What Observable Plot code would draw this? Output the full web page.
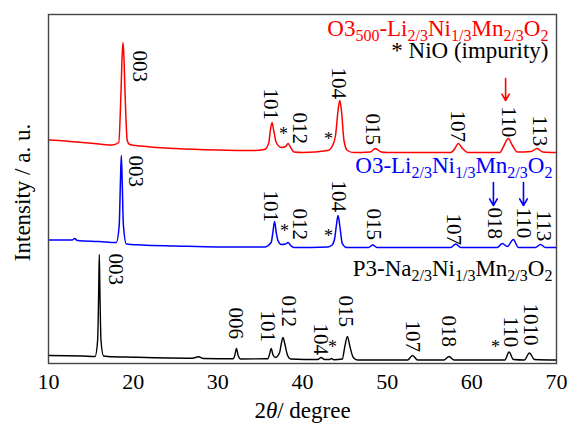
<!DOCTYPE html>
<html><head><meta charset="utf-8">
<script src="https://cdn.jsdelivr.net/npm/d3@7"></script>
<script src="https://cdn.jsdelivr.net/npm/@observablehq/plot@0.6"></script>
<style>body{margin:0;background:#fff} svg text{font-family:"Liberation Serif",serif}</style>
</head><body><div id="chart"></div>
<script>
// ---- Data (2θ in degrees, intensity in arbitrary units) ----
const xTicks = [10, 20, 30, 40, 50, 60, 70];

const redPattern = [
  [10,223.5],[12,222.5],[14,221],[16,219.5],[17.5,218.5],[18.3,221],[18.55,268],[18.7,308],[18.8,321],
  [18.9,308],[19.05,268],[19.3,223],[19.6,219],[20.9,217.5],[25,215],[30,213.5],[34,213],[35.5,214],
  [36.0,220],[36.2,233],[36.4,241],[36.6,233],[36.9,221],[37.5,216],[38.0,217],[38.3,220],[38.6,216],
  [39.0,211.5],[40,211],[43.0,213],[43.5,217],[43.9,228],[44.2,253],[44.4,263],[44.6,253],[44.9,223],
  [45.3,213],[46,211],[48.0,211.5],[48.6,215],[49.3,211.5],[50,211],[57.5,211],[58.0,215],[58.4,220],
  [58.9,215],[59.5,211],[63.3,211],[63.8,218],[64.3,225],[64.8,218],[65.4,211.5],[67,212],[67.7,215],
  [68.4,211.5],[70,211]
];
const bluePattern = [
  [10,123.5],[12.8,123.5],[13.1,125],[13.4,123],[16,122],[18.0,121],[18.35,138],[18.5,183],[18.6,208],
  [18.7,183],[18.85,138],[19.2,119.5],[21,118.5],[25,117.5],[30,116.5],[35.5,116.5],[36.3,121],[36.5,131],
  [36.7,142],[36.9,131],[37.1,123],[37.5,119],[38.0,119.5],[38.3,121],[38.6,118],[39.0,116],[43.0,116.5],
  [43.5,118.5],[43.8,125],[44.0,138],[44.2,148],[44.4,138],[44.7,120],[45.2,116],[47.8,116],[48.3,118.5],
  [48.8,116],[57.5,116],[58.1,119.5],[58.7,116],[63.0,116],[63.6,120],[64.2,117],[64.9,124],[65.5,116],
  [67.5,116],[68.1,119],[68.7,116],[70,116]
];
const blackPattern = [
  [10,8],[14,7.5],[15.5,7],[15.8,23],[15.93,73],[16.0,109],[16.07,73],[16.2,23],[16.5,7.5],[17,7],
  [20,6.3],[27,5.3],[27.7,6.7],[28.3,5],[31.8,4.7],[32.0,8],[32.2,15],[32.4,8],[32.7,4.5],[35.9,4.7],
  [36.1,9],[36.3,15],[36.5,9],[36.8,6],[37.3,11],[37.5,20],[37.7,26],[37.9,20],[38.2,9],[38.6,4.5],
  [41.8,4],[42.2,6],[42.6,4],[43.2,4],[43.4,5],[43.7,3.7],[44.7,4.5],[45.0,17],[45.3,27],[45.6,17],
  [46.0,6],[46.5,3.5],[52.4,3.5],[53.0,8],[53.6,3.5],[56.7,3.5],[57.3,7],[57.9,3.5],[63.9,3.5],
  [64.4,11.5],[64.9,4],[66.2,3.5],[66.8,10.5],[67.4,4],[70,3.5]
];

// peak index labels: [2θ, intensity at top of label, text]
const redPeakLabels = [
  [20.75,313,"003"],[36.22,275,"101"],[39.64,251,"012"],[44.25,296,"104"],[48.27,250,"015"],
  [58.3,253,"107"],[64.33,257,"110"],[67.99,248,"113"]
];
const bluePeakLabels = [
  [20.28,208,"003"],[36.22,173,"101"],[39.64,155,"012"],[44.25,183,"104"],[48.38,155,"015"],
  [57.83,150,"107"],[62.67,156,"018"],[66.1,156,"110"],[68.46,153,"113"]
];
const blackPeakLabels = [
  [17.91,110,"003"],[32.09,56,"006"],[35.87,53,"101"],[38.35,68,"012"],[42.12,40,"104"],
  [45.08,68,"015"],[52.99,43,"107"],[57.24,48,"018"],[64.56,47,"110"],[66.93,60,"1010"]
];
// NiO impurity marks: [2θ, intensity]
const impurityMarks = [[37.75,233],[43.07,228],[37.87,136],[43.07,131],[43.54,20],[62.79,20]];

// arrows: [2θ, from, to, colour]
const arrows = [[63.99,285,263,"red"],[62.55,181,158,"blue"],[66.1,181,158,"blue"]];

// sample names / notes: [2θ right end, baseline intensity, text, colour]
const sampleNames = [
  [69.05,328,"O3_{500}-Li_{2/3}Ni_{1/3}Mn_{2/3}O_{2}","red"],
  [69.05,306,"* NiO (impurity)","black"],
  [69.52,191,"O3-Li_{2/3}Ni_{1/3}Mn_{2/3}O_{2}","blue"],
  [69.52,88,"P3-Na_{2/3}Ni_{1/3}Mn_{2/3}O_{2}","black"]
];
const RED = "#ff0000", BLUE = "#0000ff", BLACK = "#000000";
const FONT = "Liberation Serif";
const colourOf = {red: RED, blue: BLUE, black: BLACK};

const peakText = (data) => Plot.text(data, {
  x: d => d[0], y: d => d[1], text: d => d[2], rotate: 90,
  textAnchor: "start", lineAnchor: "middle", fontSize: 21, fontFamily: FONT, fill: BLACK
});

const chart = Plot.plot({
  width: 568, height: 427,
  marginLeft: 48, marginRight: 12, marginTop: 14, marginBottom: 64,
  x: {domain: [10, 70]},
  y: {domain: [0, 349], axis: null},
  style: {fontFamily: FONT, fontSize: "22px", background: "white", color: "black"},
  marks: [
    Plot.line(blackPattern, {x: d => d[0], y: d => d[1], stroke: BLACK, strokeWidth: 1.4, curve: "monotone-x"}),
    Plot.line(bluePattern, {x: d => d[0], y: d => d[1], stroke: BLUE, strokeWidth: 1.5, curve: "monotone-x"}),
    Plot.line(redPattern, {x: d => d[0], y: d => d[1], stroke: RED, strokeWidth: 1.5, curve: "monotone-x"}),
    peakText(redPeakLabels),
    peakText(bluePeakLabels),
    peakText(blackPeakLabels),
    Plot.text(impurityMarks, {x: d => d[0], y: d => d[1], text: () => "*", fontSize: 18, fontFamily: FONT, dy: 4, fill: BLACK}),
    Plot.arrow(arrows, {x1: d => d[0], y1: d => d[1], x2: d => d[0], y2: d => d[2],
      stroke: d => colourOf[d[3]], strokeWidth: 1.6, headLength: 8}),
    Plot.text(sampleNames, {x: d => d[0], y: d => d[1], text: d => d[2], fill: d => colourOf[d[3]],
      textAnchor: "end", lineAnchor: "bottom", fontSize: 23, fontFamily: FONT}),
    Plot.axisX({ticks: xTicks, tickSize: 0, tickPadding: 10, fontSize: 22, fontFamily: FONT, label: null}),
    Plot.text(["2θ/ degree"], {frameAnchor: "bottom", dy: 47, lineAnchor: "middle", fontSize: 23, fontFamily: FONT}),
    Plot.text(["Intensity / a. u."], {x: 10, y: 171, dx: -26, rotate: -90, lineAnchor: "middle", fontSize: 23, fontFamily: FONT}),
    Plot.frame({stroke: "#444", strokeWidth: 1.4})
  ]
});

// subscripts and italic θ as real text spans
d3.select(chart).selectAll("text").each(function () {
  const t = this.textContent;
  const el = d3.select(this);
  if (t.includes("_{")) {
    el.text(null);
    const parts = t.split(/(_\{[^}]*\})/).filter(s => s);
    let low = false;
    for (const p of parts) {
      if (p.startsWith("_{")) {
        el.append("tspan").attr("dy", low ? 0 : 5).attr("font-size", 16).text(p.slice(2, -1));
        low = true;
      } else {
        el.append("tspan").attr("dy", low ? -5 : 0).text(p);
        low = false;
      }
    }
  } else if (t === "2θ/ degree") {
    el.text(null);
    el.append("tspan").text("2");
    el.append("tspan").attr("font-style", "italic").text("θ");
    el.append("tspan").text("/ degree");
  }
});
document.getElementById("chart").appendChild(chart);
</script></body></html>
